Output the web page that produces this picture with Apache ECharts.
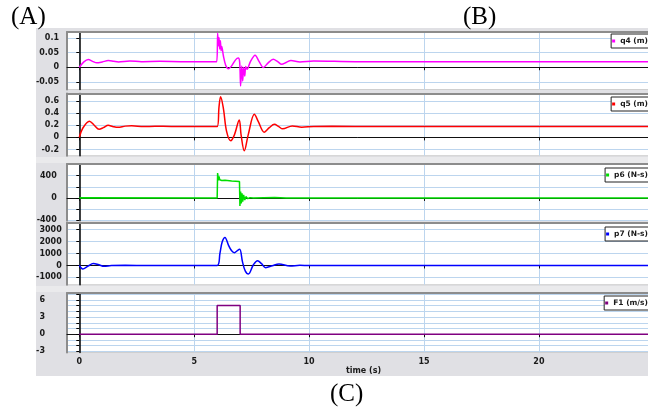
<!DOCTYPE html>
<html><head><meta charset="utf-8">
<script src="https://cdn.jsdelivr.net/npm/echarts@6/dist/echarts.min.js"></script>
<style>html,body{margin:0;padding:0;background:#fff}#c{width:648px;height:408px}</style>
</head><body><div id="c"></div>
<script>
// ---------- data ----------
const seriesNames = ['q4 (m)', 'q5 (m)', 'p6 (N-s)', 'p7 (N-s)', 'F1 (m/s)'];
const timeTicks = [0, 5, 10, 15, 20, 25];
const timeRange = [-0.535, 25.27];

const q4Data = [[0,0],[0.2,0.018],[0.39,0.026],[0.58,0.02],[0.76,0.015],[1.0,0.018],[1.26,0.0225],[1.5,0.02],[1.7,0.018],[2.2,0.021],[2.7,0.019],[3.5,0.02],[4.5,0.019],[5.98,0.019],[6.02,0.116],[6.05,0.073],[6.08,0.101],[6.11,0.062],[6.14,0.09],[6.17,0.056],[6.2,0.071],[6.27,0.039],[6.37,0.007],[6.49,-0.005],[6.63,0.0045],[6.8,0.025],[6.92,0.031],[6.98,0.016],[7.02,-0.064],[7.07,0.0045],[7.11,-0.047],[7.15,-0.001],[7.2,-0.03],[7.24,0.002],[7.3,-0.007],[7.45,0.02],[7.65,0.041],[7.82,0.02],[8.01,-0.001],[8.22,0.015],[8.44,0.027],[8.62,0.02],[8.81,0.01],[9.0,0.016],[9.21,0.023],[9.6,0.018],[10.2,0.021],[12,0.019],[16,0.019],[20,0.019],[25.3,0.019]];
const q5Data = [[0,0],[0.15,0.15],[0.44,0.265],[0.65,0.2],[0.86,0.132],[1.05,0.16],[1.26,0.198],[1.45,0.18],[1.68,0.165],[2.0,0.185],[2.28,0.19],[2.8,0.178],[3.3,0.182],[4.0,0.18],[5.0,0.18],[6.0,0.18],[6.08,0.5],[6.15,0.667],[6.27,0.476],[6.41,0.098],[6.59,-0.055],[6.75,0.042],[6.96,0.286],[7.04,0.042],[7.18,-0.218],[7.35,0.042],[7.62,0.379],[7.79,0.26],[8.05,0.086],[8.27,0.16],[8.49,0.216],[8.67,0.18],[8.85,0.14],[9.27,0.189],[9.68,0.167],[10.2,0.18],[11,0.182],[13,0.178],[25.3,0.18]];
const p6Data = [[0,0],[0.1,5],[6.0,0],[6.02,449],[6.05,315],[6.08,388],[6.11,327],[6.15,357],[6.2,315],[6.34,318],[6.63,305],[6.97,297],[6.99,-145],[7.02,115],[7.05,-97],[7.08,85],[7.11,-67],[7.15,55],[7.2,-36],[7.25,24],[7.33,-13],[7.43,6],[7.57,0],[8.5,8],[9,0],[25.3,0]];
const p7Data = [[0,0],[0.15,-300],[0.38,-50],[0.61,170],[0.85,60],[1.08,-70],[1.4,0],[2,10],[3,0],[6.0,0],[6.12,1010],[6.22,1980],[6.34,2350],[6.49,1710],[6.62,1250],[6.75,1070],[6.88,1250],[6.98,1350],[7.1,320],[7.22,-450],[7.36,-710],[7.57,40],[7.76,400],[7.93,150],[8.11,-180],[8.4,-20],[8.69,125],[9.17,-40],[9.6,10],[10,0],[25.3,0]];
const f1Data = [[0,0],[6,0],[6,5],[7,5],[7,0],[25.3,0]];

const yRanges = [[-0.076,0.12],[-0.3,0.72],[-405,610],[-1610,3600],[-3.2,7.2]];
const yTicks = [[-0.05,0,0.05,0.1],[-0.2,0,0.2,0.4,0.6],[-400,-200,0,200,400],[-1000,0,1000,2000,3000],[-3,-2,-1,0,1,2,3,4,5,6,7]];
const yLabels = [[0.1,0.05,0,-0.05],[0.6,0.4,0.2,0,-0.2],[400,0,-400],[3000,2000,1000,0,-1000],[6,3,0,-3]];

// ---------- layout / style ----------
const allData = [q4Data, q5Data, p6Data, p7Data, f1Data];
const colors = ['#ff00ff', '#ff0000', '#00dd00', '#0000ff', '#800080'];
const smoothing = [0.3, 0.35, false, 0.35, false];
const panels = [[32,57.5],[93.5,62.2],[164,56.5],[222.5,62.2],[293,59.5]]; // top, height
const labelMargins = [8, 8, 10.3, 5.3, 22];
const legendTops = [34, 97, 168, 227, 296];
const fmt = v => String(+(+v).toFixed(4));
const tickFont = {fontFamily: 'DejaVu Sans', fontSize: 8, fontWeight: 'bold', color: '#1a1a1a'};
const legendFont = {fontFamily: 'DejaVu Sans', fontSize: 7.5, fontWeight: 'bold', color: '#1a1a1a'};
const gridLine = {color: '#bcd5ee', width: 1};

const grid = [], xAxis = [], yAxis = [], series = [], legend = [];
panels.forEach((p, i) => {
  grid.push({left: 67, right: -12, top: p[0], height: p[1], show: true, backgroundColor: '#fff',
    borderColor: '#cfcfcf', borderWidth: 1, containLabel: false, outerBoundsMode: 'none'});
  xAxis.push({type: 'value', gridIndex: i, min: timeRange[0], max: timeRange[1], position: 'bottom',
    axisLine: {onZero: true, lineStyle: {color: '#111', width: 1}},
    axisTick: {show: true, customValues: timeTicks, length: 3, lineStyle: {color: '#111'}},
    axisLabel: {show: i === 4, customValues: timeTicks, margin: 5, formatter: fmt, ...tickFont},
    splitLine: {show: true, lineStyle: gridLine},
    name: i === 4 ? 'time (s)' : '', nameLocation: 'middle', nameGap: 14, nameTextStyle: tickFont});
  xAxis.push({type: 'value', gridIndex: i, min: timeRange[0], max: timeRange[1], position: 'top',
    axisLine: {show: true, onZero: false, lineStyle: {color: '#8c8c8c', width: 2}},
    axisTick: {show: false}, axisLabel: {show: false}, splitLine: {show: false}});
  yAxis.push({type: 'value', gridIndex: i, min: yRanges[i][0], max: yRanges[i][1], position: 'left',
    axisLine: {show: true, onZero: true, lineStyle: {color: '#000', width: 1.5}},
    axisTick: {show: true, customValues: yTicks[i], length: 3, lineStyle: {color: '#000'}},
    axisLabel: {show: true, customValues: yLabels[i], margin: labelMargins[i], formatter: fmt, ...tickFont},
    splitLine: {show: true, lineStyle: gridLine}});
  yAxis.push({type: 'value', gridIndex: i, min: yRanges[i][0], max: yRanges[i][1], position: 'left',
    axisLine: {show: true, onZero: false, lineStyle: {color: '#8c8c8c', width: 2}},
    axisTick: {show: false}, axisLabel: {show: false}, splitLine: {show: false}});
  series.push({name: seriesNames[i], type: 'line', xAxisIndex: 2 * i, yAxisIndex: 2 * i,
    data: allData[i], showSymbol: false, smooth: smoothing[i], color: colors[i],
    lineStyle: {width: 1.5, color: colors[i]}, z: 3});
  legend.push({data: [seriesNames[i]], top: legendTops[i], right: -4, icon: 'rect', itemWidth: 3, itemHeight: 3,
    padding: [3, 4, 3, 1], borderColor: '#222', borderWidth: 1, borderRadius: 0, backgroundColor: '#fff',
    selectedMode: false, textStyle: legendFont});
});

const serif = {fontFamily: 'Liberation Serif', fontSize: 25, fontWeight: 'normal', color: '#000'};
const chart = echarts.init(document.getElementById('c'), null, {renderer: 'canvas'});
chart.setOption({
  animation: false,
  backgroundColor: '#fff',
  title: [
    {text: '(A)', left: 11, top: 5, padding: 0, textStyle: serif},
    {text: '(B)', left: 463, top: 5, padding: 0, textStyle: serif},
    {text: '(C)', left: 330, top: 382, padding: 0, textStyle: serif}
  ],
  graphic: [
    {type: 'rect', left: 36, top: 28, z: -10, silent: true, shape: {width: 612, height: 348}, style: {fill: '#e0e0e4'}},
    {type: 'rect', left: 36, top: 157, z: -9, silent: true, shape: {width: 612, height: 6}, style: {fill: '#eaeaec'}},
    {type: 'rect', left: 36, top: 286, z: -9, silent: true, shape: {width: 612, height: 6}, style: {fill: '#eaeaec'}}
  ],
  grid, xAxis, yAxis, series, legend
});
</script></body></html>
